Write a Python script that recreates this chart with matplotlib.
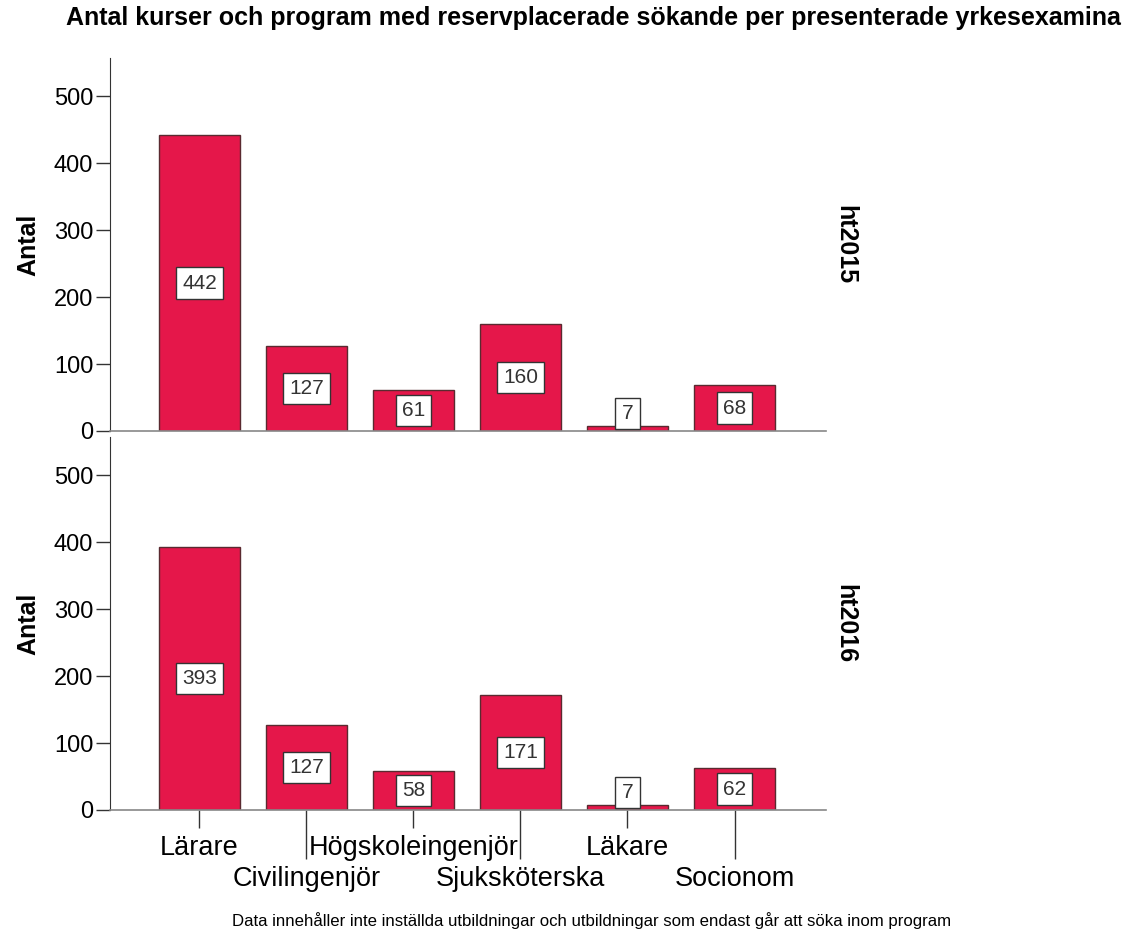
import numpy as np
import matplotlib
matplotlib.use("Agg")
import matplotlib.pyplot as plt

plt.rcParams['font.family'] = ['Liberation Sans', 'DejaVu Sans']

kategorier = ['Lärare', 'Civilingenjör', 'Högskoleingenjör', 'Sjuksköterska', 'Läkare', 'Socionom']
ht2015 = [442, 127, 61, 160, 7, 68]
ht2016 = [393, 127, 58, 171, 7, 62]
paneler = ['ht2015', 'ht2016']
yticks = [0, 100, 200, 300, 400, 500]

titel = 'Antal kurser och program med reservplacerade sökande per presenterade yrkesexamina'
fotnot = 'Data innehåller inte inställda utbildningar och utbildningar som endast går att söka inom program'

farg = '#E5174A'
W, H = 1132, 934

fig = plt.figure(figsize=(W / 100, H / 100), dpi=100)

def rect(x0, y0, x1, y1):
    # pixelkoordinater (uppifrån) -> figurandelar
    return [x0 / W, 1 - y1 / H, (x1 - x0) / W, (y1 - y0) / H]

ax1 = fig.add_axes(rect(110, 58, 826, 431))
ax2 = fig.add_axes(rect(110, 437, 826, 810))

x = np.arange(len(kategorier))
for ax, data, namn in zip([ax1, ax2], [ht2015, ht2016], paneler):
    ax.bar(x, data, width=0.76, color=farg, edgecolor='#5a2a30', linewidth=1.0, zorder=2)
    for xi, v in zip(x, data):
        ax.text(xi, max(v / 2, 26), str(v), ha='center', va='center', fontsize=15,
                color='#333333', zorder=3,
                bbox=dict(boxstyle='square,pad=0.3', facecolor='white', edgecolor='#333333', linewidth=1.0))
    ax.set_xlim(-0.836, 5.855)
    ax.set_ylim(0, 557)
    ax.set_yticks(yticks)
    ax.tick_params(axis='y', length=10, width=1, color='#333333', labelsize=17, pad=2)
    ax.set_ylabel('Antal', fontsize=18, fontweight='bold', labelpad=10)
    for s in ['top', 'right']:
        ax.spines[s].set_visible(False)
    ax.spines['left'].set_color('#333333')
    ax.spines['bottom'].set_color('#888888')
    ax.spines['bottom'].set_linewidth(1.2)
    pos = ax.get_position()
    fig.text(845 / W, pos.y0 + pos.height * 0.5, namn, rotation=-90, ha='center', va='center',
             fontsize=18, fontweight='bold')

ax1.set_xticks([])

# alternerande etiketter: korta och långa streck
ax2.set_xticks(x[0::2])
ax2.set_xticklabels(kategorier[0::2])
ax2.set_xticks(x[1::2], minor=True)
ax2.set_xticklabels(kategorier[1::2], minor=True)
ax2.tick_params(axis='x', which='major', length=13, width=1, color='#333333', labelsize=19.5, pad=5)
ax2.tick_params(axis='x', which='minor', length=35, width=1, color='#333333', labelsize=19.5, pad=5)

fig.text(593 / W, 1 - 18 / H, titel, ha='center', va='center', fontsize=18, fontweight='bold')
fig.text(592 / W, 1 - 921 / H, fotnot, ha='center', va='center', fontsize=12.1)

fig.savefig('out.png', dpi=100, facecolor='white')
